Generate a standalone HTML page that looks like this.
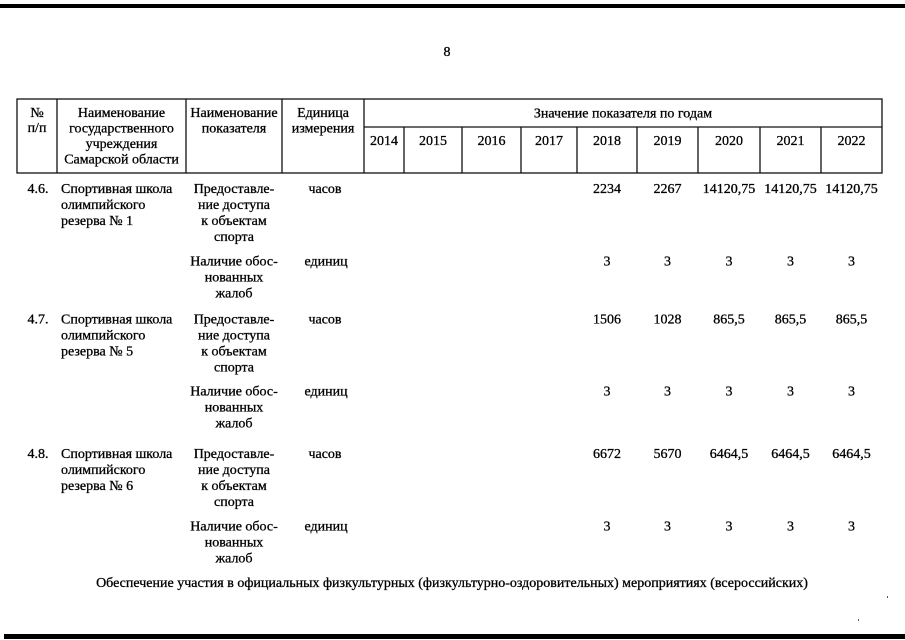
<!DOCTYPE html>
<html>
<head>
<meta charset="utf-8">
<style>
html,body{margin:0;padding:0;background:#fff;}
body{width:905px;height:640px;overflow:hidden;}
svg{display:block;}
text{font-family:"Liberation Serif","DejaVu Serif",serif;font-size:14px;fill:#000;stroke:#000;stroke-width:0.3;}
.c{text-anchor:middle;}
</style>
</head>
<body>
<svg width="905" height="640" viewBox="0 0 905 640" xmlns="http://www.w3.org/2000/svg">
  <!-- top and bottom thick bars -->
  <rect x="0" y="4" width="905" height="4" fill="#000"/>
  <rect x="4" y="634" width="901" height="5" fill="#000"/>

  <!-- page number -->
  <text x="447" y="56" class="c">8</text>

  <!-- table lines -->
  <g stroke="#111" stroke-width="1.3" fill="none">
    <rect x="17" y="99" width="865" height="74"/>
    <line x1="57" y1="99" x2="57" y2="173"/>
    <line x1="186" y1="99" x2="186" y2="173"/>
    <line x1="282" y1="99" x2="282" y2="173"/>
    <line x1="364" y1="99" x2="364" y2="173"/>
    <line x1="364" y1="127" x2="882" y2="127"/>
    <line x1="404" y1="127" x2="404" y2="173"/>
    <line x1="462" y1="127" x2="462" y2="173"/>
    <line x1="521" y1="127" x2="521" y2="173"/>
    <line x1="577" y1="127" x2="577" y2="173"/>
    <line x1="637" y1="127" x2="637" y2="173"/>
    <line x1="698" y1="127" x2="698" y2="173"/>
    <line x1="760" y1="127" x2="760" y2="173"/>
    <line x1="821" y1="127" x2="821" y2="173"/>
  </g>

  <!-- header text -->
  <text x="37" y="117" class="c">№</text>
  <text x="37" y="132" class="c">п/п</text>

  <text x="121.5" y="117" class="c">Наименование</text>
  <text x="121.5" y="132.5" class="c">государственного</text>
  <text x="121.5" y="148" class="c">учреждения</text>
  <text x="121.5" y="163.5" class="c">Самарской области</text>

  <text x="234" y="117" class="c">Наименование</text>
  <text x="234" y="132.5" class="c">показателя</text>

  <text x="323" y="117" class="c">Единица</text>
  <text x="323" y="132.5" class="c">измерения</text>

  <text x="623" y="117.5" class="c">Значение показателя по годам</text>

  <text x="384" y="145" class="c">2014</text>
  <text x="433" y="145" class="c">2015</text>
  <text x="491.5" y="145" class="c">2016</text>
  <text x="549" y="145" class="c">2017</text>
  <text x="607" y="145" class="c">2018</text>
  <text x="667.5" y="145" class="c">2019</text>
  <text x="729" y="145" class="c">2020</text>
  <text x="790.5" y="145" class="c">2021</text>
  <text x="851.5" y="145" class="c">2022</text>

  <!-- Row 4.6 -->
  <text x="38" y="193" class="c">4.6.</text>
  <text x="61" y="193">Спортивная школа</text>
  <text x="61" y="209">олимпийского</text>
  <text x="61" y="225">резерва № 1</text>
  <text x="234" y="193" class="c">Предоставле-</text>
  <text x="234" y="209" class="c">ние доступа</text>
  <text x="234" y="225" class="c">к объектам</text>
  <text x="234" y="241" class="c">спорта</text>
  <text x="325" y="193" class="c">часов</text>
  <text x="607" y="193" class="c">2234</text>
  <text x="667.5" y="193" class="c">2267</text>
  <text x="729" y="193" class="c">14120,75</text>
  <text x="790.5" y="193" class="c">14120,75</text>
  <text x="851.5" y="193" class="c">14120,75</text>

  <text x="234" y="265.5" class="c">Наличие обос-</text>
  <text x="234" y="281.5" class="c">нованных</text>
  <text x="234" y="297.5" class="c">жалоб</text>
  <text x="326" y="265.5" class="c">единиц</text>
  <text x="607" y="265.5" class="c">3</text>
  <text x="667.5" y="265.5" class="c">3</text>
  <text x="729" y="265.5" class="c">3</text>
  <text x="790.5" y="265.5" class="c">3</text>
  <text x="851.5" y="265.5" class="c">3</text>

  <!-- Row 4.7 -->
  <text x="38" y="323.5" class="c">4.7.</text>
  <text x="61" y="323.5">Спортивная школа</text>
  <text x="61" y="339.5">олимпийского</text>
  <text x="61" y="355.5">резерва № 5</text>
  <text x="234" y="323.5" class="c">Предоставле-</text>
  <text x="234" y="339.5" class="c">ние доступа</text>
  <text x="234" y="355.5" class="c">к объектам</text>
  <text x="234" y="371.5" class="c">спорта</text>
  <text x="325" y="323.5" class="c">часов</text>
  <text x="607" y="323.5" class="c">1506</text>
  <text x="667.5" y="323.5" class="c">1028</text>
  <text x="729" y="323.5" class="c">865,5</text>
  <text x="790.5" y="323.5" class="c">865,5</text>
  <text x="851.5" y="323.5" class="c">865,5</text>

  <text x="234" y="395.5" class="c">Наличие обос-</text>
  <text x="234" y="411.5" class="c">нованных</text>
  <text x="234" y="427.5" class="c">жалоб</text>
  <text x="326" y="395.5" class="c">единиц</text>
  <text x="607" y="395.5" class="c">3</text>
  <text x="667.5" y="395.5" class="c">3</text>
  <text x="729" y="395.5" class="c">3</text>
  <text x="790.5" y="395.5" class="c">3</text>
  <text x="851.5" y="395.5" class="c">3</text>

  <!-- Row 4.8 -->
  <text x="38" y="458" class="c">4.8.</text>
  <text x="61" y="458">Спортивная школа</text>
  <text x="61" y="474">олимпийского</text>
  <text x="61" y="490">резерва № 6</text>
  <text x="234" y="458" class="c">Предоставле-</text>
  <text x="234" y="474" class="c">ние доступа</text>
  <text x="234" y="490" class="c">к объектам</text>
  <text x="234" y="506" class="c">спорта</text>
  <text x="325" y="458" class="c">часов</text>
  <text x="607" y="458" class="c">6672</text>
  <text x="667.5" y="458" class="c">5670</text>
  <text x="729" y="458" class="c">6464,5</text>
  <text x="790.5" y="458" class="c">6464,5</text>
  <text x="851.5" y="458" class="c">6464,5</text>

  <text x="234" y="530.5" class="c">Наличие обос-</text>
  <text x="234" y="546.5" class="c">нованных</text>
  <text x="234" y="562.5" class="c">жалоб</text>
  <text x="326" y="530.5" class="c">единиц</text>
  <text x="607" y="530.5" class="c">3</text>
  <text x="667.5" y="530.5" class="c">3</text>
  <text x="729" y="530.5" class="c">3</text>
  <text x="790.5" y="530.5" class="c">3</text>
  <text x="851.5" y="530.5" class="c">3</text>

  <!-- footer line -->
  <text x="452" y="587" class="c">Обеспечение участия в официальных физкультурных (физкультурно-оздоровительных) мероприятиях (всероссийских)</text>

  <!-- specks -->
  <rect x="887" y="596" width="1" height="2" fill="#555"/>
  <rect x="858" y="619" width="1" height="2" fill="#555"/>
</svg>
</body>
</html>
